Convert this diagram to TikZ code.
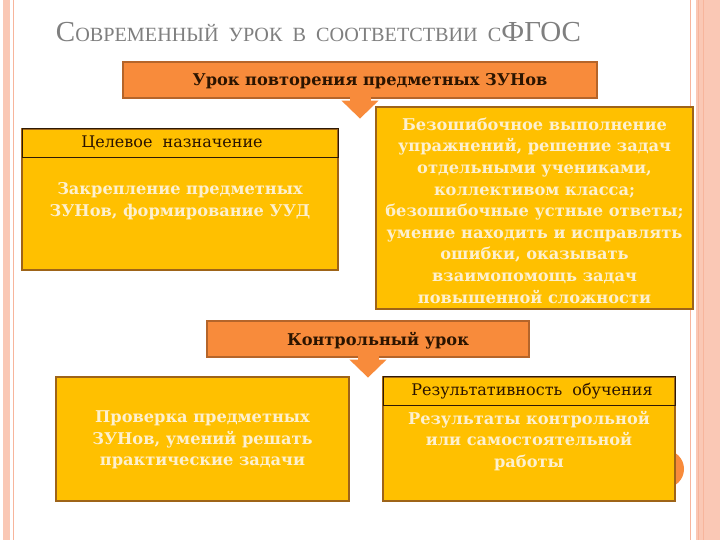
\documentclass[tikz,border=0pt]{standalone}
\usepackage{fontspec}
\setmainfont{Liberation Serif}
\newfontfamily\boxfont{DejaVu Serif}
\usetikzlibrary{arrows.meta}

\definecolor{slidepink}{HTML}{FAC8B5}
\definecolor{pinkline}{HTML}{F7B59C}
\definecolor{titlegray}{HTML}{7F7F7F}
\definecolor{lessonorange}{HTML}{F88B3B}
\definecolor{orangeedge}{HTML}{B5652A}
\definecolor{lessonyellow}{HTML}{FFC000}
\definecolor{yellowedge}{HTML}{9E6418}
\definecolor{headedge}{HTML}{2E1A05}
\definecolor{creamtext}{HTML}{FDF0CF}
\definecolor{darktext}{HTML}{2B1400}

\tikzset{
  orangebox/.style={draw=orangeedge, fill=lessonorange, line width=1.2pt, minimum height=36pt},
  yellowbox/.style={draw=yellowedge, fill=lessonyellow, line width=1.2pt},
  headbox/.style={draw=headedge, line width=0.9pt, minimum height=29pt, anchor=north},
  orangetext/.style={text=darktext, font=\boxfont\bfseries\fontsize{16.2}{18}\selectfont},
  headtext/.style={text=darktext, font=\boxfont\fontsize{16}{18}\selectfont},
  bodytext/.style={text=creamtext, font=\boxfont\bfseries\fontsize{16.2}{21.6}\selectfont, align=center},
  downarrow/.style={draw=lessonorange, line width=21pt, -{Triangle[length=18pt,width=36pt]}}
}

\begin{document}
\begin{tikzpicture}[x=1pt, y=1pt]
  \useasboundingbox (0,0) rectangle (720,-540);
  \fill[white] (0,0) rectangle (720,-540);

  % slide edges
  \fill[slidepink] (3,0) rectangle (10,-540);
  \draw[pinkline, line width=0.8pt] (13,0) -- (13,-540);
  \draw[pinkline, line width=0.8pt] (690,0) -- (690,-540);
  \fill[slidepink] (696,0) rectangle (720,-540);
  \draw[pinkline, line width=1pt] (698,0) -- (698,-540);
  \draw[pinkline, line width=1pt] (703,0) -- (703,-540);

  % title
  \node[text=titlegray, anchor=base] (title) at (318.5,-42)
    {\fontsize{29}{29}\selectfont С\fontsize{20.2}{20.2}\selectfont ОВРЕМЕННЫЙ\ \ УРОК\ \ В\ \ СООТВЕТСТВИИ\ \ С\fontsize{29}{29}\selectfont ФГОС};

  % slide number behind the box
  \fill[lessonorange] (665,-469) circle[radius=19];

  % upper part
  \node[orangebox, minimum width=474pt] (lesson) at (360,-80) {};
  \node[orangetext] (lessontext) at (370,-81) {Урок повторения предметных ЗУНов};

  \node[yellowbox, minimum width=316pt, minimum height=141pt] (goal) at (180,-199.5) {};
  \node[headbox, minimum width=316pt] (goalhead) at (goal.north) {};
  \node[headtext] (goalheadtext) at ([xshift=-8pt]goalhead.center) {Целевое\ \ назначение};
  \node[bodytext] (goaltext) at (180,-201) {Закрепление предметных\\ЗУНов, формирование УУД};

  \node[yellowbox, minimum width=317pt, minimum height=202pt] (result) at (534.5,-208) {};
  \node[bodytext] (resulttext) at (534.5,-210.5) {Безошибочное выполнение\\упражнений, решение задач\\отдельными учениками,\\коллективом класса;\\безошибочные устные ответы;\\умение находить и исправлять\\ошибки, оказывать\\взаимопомощь задач\\повышенной сложности};

  \draw[downarrow] ([yshift=3pt]lesson.south) -- ++(0,-23);

  % lower part
  \node[orangebox, minimum width=322pt] (control) at (368,-339) {};
  \node[orangetext] (controltext) at (378,-341) {Контрольный урок};

  \node[yellowbox, minimum width=293pt, minimum height=124pt] (check) at (202.5,-439) {};
  \node[bodytext] (checktext) at (202.5,-440) {Проверка предметных\\ЗУНов, умений решать\\практические задачи};

  \node[yellowbox, minimum width=292pt, minimum height=124pt] (outcome) at (529,-439) {};
  \node[headbox, minimum width=292pt] (outcomehead) at (outcome.north) {};
  \node[headtext] (outcomeheadtext) at ([xshift=3pt]outcomehead.center) {Результативность\ \ обучения};
  \node[bodytext] (outcometext) at (529,-441) {Результаты контрольной\\или самостоятельной\\работы};

  \draw[downarrow] ([yshift=3pt]control.south) -- ++(0,-23);
\end{tikzpicture}
\end{document}
